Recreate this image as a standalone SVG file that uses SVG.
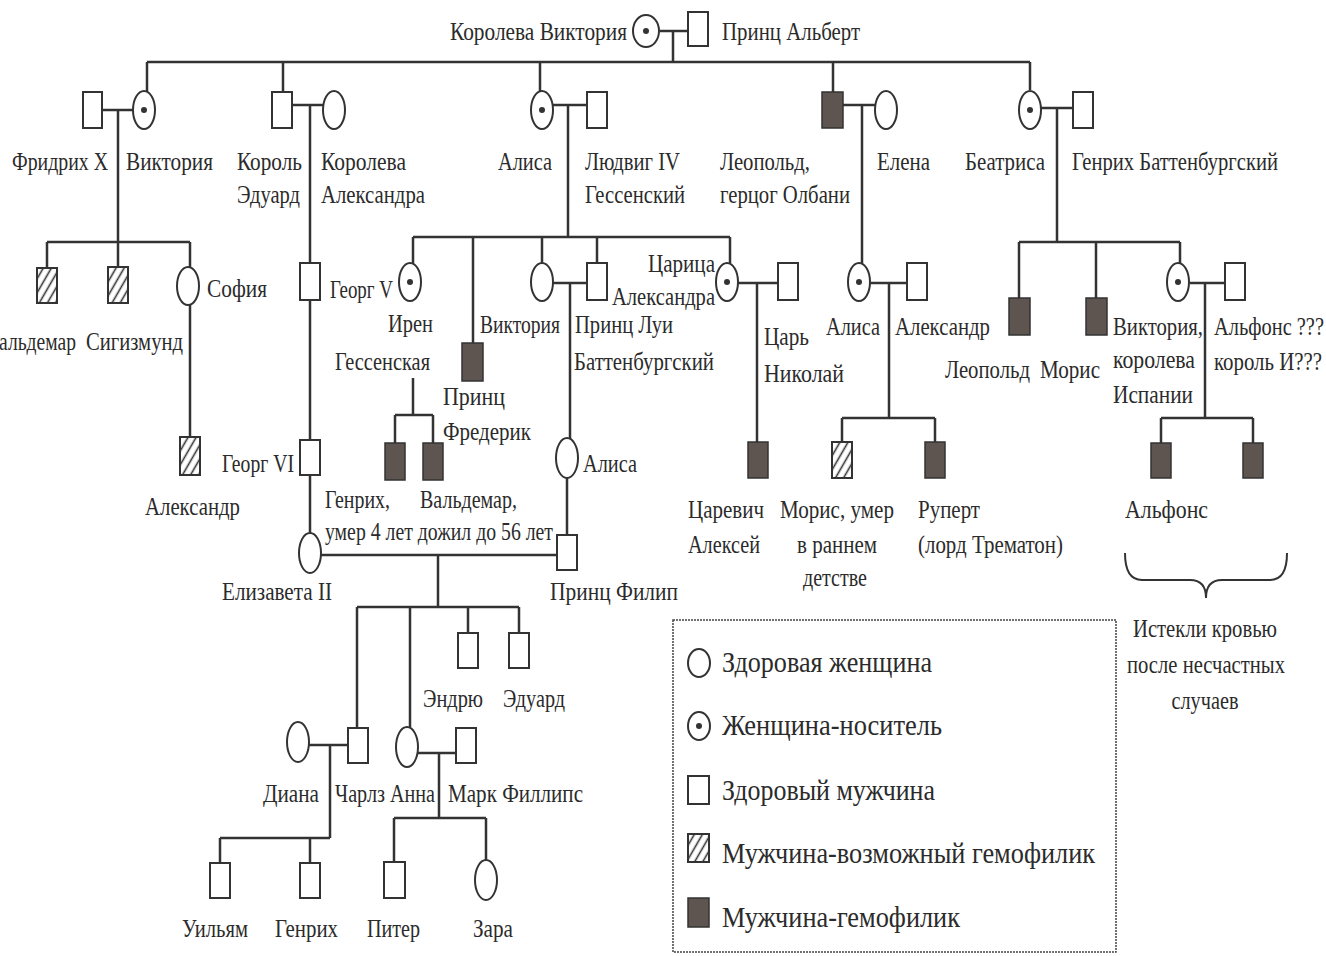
<svg xmlns="http://www.w3.org/2000/svg" width="1326" height="956" viewBox="0 0 1326 956">
<style>
.ln{stroke:#333;stroke-width:2.5;fill:none}
.s{stroke:#333;stroke-width:2;fill:#fff}
.a{stroke:#333;stroke-width:1.5;fill:#5e5550}
.h{stroke:#333;stroke-width:2;fill:url(#hatch)}
.d{fill:#333}
text{font-family:"Liberation Serif","Times New Roman",serif;font-size:26px;fill:#2b2b2b}
.lg{font-size:30px}
</style>
<defs>
<pattern id="hatch" patternUnits="userSpaceOnUse" width="7" height="7" patternTransform="rotate(30)">
<rect width="7" height="7" fill="#fff"/>
<line x1="3.5" y1="0" x2="3.5" y2="7" stroke="#333" stroke-width="1.6"/>
</pattern>
</defs>
<rect width="1326" height="956" fill="#fff"/>

<g id="connectors">
<path class="ln" d="M660,31H688M673,31V62M147,62H1030M147,62V91M283,62V92M540,62V91M833,62V92M1030,62V90"/>
<path class="ln" d="M102,110H133M118,110V267M47,242H190M47,242V268M190,242V267M190,305V437"/>
<path class="ln" d="M292,105H323M310,105V263M310,300V440M310,475V533"/>
<path class="ln" d="M552,105H587M568,105V237M413,237H730M413,237V263M473,237V343M542,237V263M597,237V263M730,237V263"/>
<path class="ln" d="M552,283H587M570,283V439M567,477V535"/>
<path class="ln" d="M413,378V415M395,415H433M395,415V443M433,415V443"/>
<path class="ln" d="M738,283H778M757,283V442"/>
<path class="ln" d="M843,105H875M862,105V263M870,283H907M889,283V418M842,418H935M842,418V442M935,418V442"/>
<path class="ln" d="M1041,108H1073M1057,108V242M1019,242H1180M1019,242V298M1096,242V298M1180,242V263M1190,283H1225M1205,283V418M1161,418H1253M1161,418V443M1253,418V443"/>
<path class="ln" d="M321,555H557M438,555V607M357,607H519M357,607V728M410,607V727M468,607V633M519,607V633"/>
<path class="ln" d="M309,745H348M330,745V838M220,838H330M220,838V863M310,838V863"/>
<path class="ln" d="M418,753H456M439,753V818M394,818H486M394,818V862M486,818V860"/>
<path d="M1125,553Q1125,580 1142,580L1190,580Q1206,580 1206,598Q1206,580 1222,580L1270,580Q1287,580 1287,553" fill="none" stroke="#333" stroke-width="2"/>
</g>

<g id="n-queen-victoria"><ellipse class="s" cx="646" cy="31" rx="13" ry="16"/><circle class="d" cx="646" cy="31" r="3"/><text x="450" y="40" textLength="177" lengthAdjust="spacingAndGlyphs">Королева Виктория</text></g>
<g id="n-albert"><rect class="s" x="688" y="12" width="20" height="34"/><text x="722" y="40" textLength="138" lengthAdjust="spacingAndGlyphs">Принц Альберт</text></g>

<g id="n-friedrich"><rect class="s" x="83" y="92" width="19" height="36"/><text x="12" y="170" textLength="96" lengthAdjust="spacingAndGlyphs">Фридрих X</text></g>
<g id="n-victoria-d"><ellipse class="s" cx="144" cy="110" rx="11" ry="19"/><circle class="d" cx="144" cy="110" r="3"/><text x="126" y="170" textLength="87" lengthAdjust="spacingAndGlyphs">Виктория</text></g>
<g id="n-edward"><rect class="s" x="272" y="92" width="20" height="36"/><text x="237" y="170" textLength="65" lengthAdjust="spacingAndGlyphs">Король</text><text x="237" y="203" textLength="63" lengthAdjust="spacingAndGlyphs">Эдуард</text></g>
<g id="n-alexandra"><ellipse class="s" cx="334" cy="110" rx="11" ry="19"/><text x="321" y="170" textLength="85" lengthAdjust="spacingAndGlyphs">Королева</text><text x="321" y="203" textLength="104" lengthAdjust="spacingAndGlyphs">Александра</text></g>
<g id="n-alice"><ellipse class="s" cx="542" cy="110" rx="11" ry="19"/><circle class="d" cx="542" cy="110" r="3"/><text x="498" y="170" textLength="54" lengthAdjust="spacingAndGlyphs">Алиса</text></g>
<g id="n-ludwig"><rect class="s" x="587" y="92" width="20" height="36"/><text x="585" y="170" textLength="95" lengthAdjust="spacingAndGlyphs">Людвиг IV</text><text x="585" y="203" textLength="100" lengthAdjust="spacingAndGlyphs">Гессенский</text></g>
<g id="n-leopold"><rect class="a" x="822" y="92" width="21" height="36"/><text x="720" y="170" textLength="90" lengthAdjust="spacingAndGlyphs">Леопольд,</text><text x="720" y="203" textLength="130" lengthAdjust="spacingAndGlyphs">герцог Олбани</text></g>
<g id="n-elena"><ellipse class="s" cx="886" cy="110" rx="11" ry="19"/><text x="877" y="170" textLength="53" lengthAdjust="spacingAndGlyphs">Елена</text></g>
<g id="n-beatrice"><ellipse class="s" cx="1030" cy="110" rx="11" ry="19"/><circle class="d" cx="1030" cy="110" r="3"/><text x="965" y="170" textLength="80" lengthAdjust="spacingAndGlyphs">Беатриса</text></g>
<g id="n-henry-b"><rect class="s" x="1073" y="92" width="20" height="36"/><text x="1072" y="170" textLength="206" lengthAdjust="spacingAndGlyphs">Генрих Баттенбургский</text></g>

<g id="n-waldemar"><rect class="h" x="37" y="268" width="20" height="35"/><text x="-14" y="350" textLength="90" lengthAdjust="spacingAndGlyphs">Вальдемар</text></g>
<g id="n-sigismund"><rect class="h" x="108" y="267" width="20" height="36"/><text x="86" y="350" textLength="97" lengthAdjust="spacingAndGlyphs">Сигизмунд</text></g>
<g id="n-sofia"><ellipse class="s" cx="188" cy="286" rx="11" ry="19"/><text x="207" y="297" textLength="60" lengthAdjust="spacingAndGlyphs">София</text></g>
<g id="n-alexander-s"><rect class="h" x="180" y="437" width="20" height="38"/><text x="145" y="515" textLength="95" lengthAdjust="spacingAndGlyphs">Александр</text></g>
<g id="n-george5"><rect class="s" x="300" y="263" width="20" height="37"/><text x="330" y="298" textLength="63" lengthAdjust="spacingAndGlyphs">Георг V</text></g>
<g id="n-george6"><rect class="s" x="300" y="440" width="20" height="35"/><text x="222" y="472" textLength="72" lengthAdjust="spacingAndGlyphs">Георг VI</text></g>
<g id="n-elizabeth"><ellipse class="s" cx="310" cy="553" rx="11" ry="20"/><text x="222" y="600" textLength="110" lengthAdjust="spacingAndGlyphs">Елизавета II</text></g>
<g id="n-philip"><rect class="s" x="557" y="535" width="20" height="35"/><text x="550" y="600" textLength="128" lengthAdjust="spacingAndGlyphs">Принц Филип</text></g>

<g id="n-irene"><ellipse class="s" cx="410" cy="282" rx="11" ry="19"/><circle class="d" cx="410" cy="282" r="3"/><text x="388" y="332" textLength="45" lengthAdjust="spacingAndGlyphs">Ирен</text><text x="335" y="370" textLength="95" lengthAdjust="spacingAndGlyphs">Гессенская</text></g>
<g id="n-frederick"><rect class="a" x="462" y="343" width="21" height="38"/><text x="443" y="405" textLength="62" lengthAdjust="spacingAndGlyphs">Принц</text><text x="443" y="440" textLength="88" lengthAdjust="spacingAndGlyphs">Фредерик</text></g>
<g id="n-victoria-h"><ellipse class="s" cx="542" cy="282" rx="11" ry="19"/><text x="480" y="333" textLength="80" lengthAdjust="spacingAndGlyphs">Виктория</text></g>
<g id="n-louis"><rect class="s" x="587" y="263" width="20" height="37"/><text x="575" y="333" textLength="98" lengthAdjust="spacingAndGlyphs">Принц Луи</text><text x="574" y="370" textLength="140" lengthAdjust="spacingAndGlyphs">Баттенбургский</text></g>
<g id="n-alice-b"><ellipse class="s" cx="567" cy="458" rx="11" ry="20"/><text x="583" y="472" textLength="54" lengthAdjust="spacingAndGlyphs">Алиса</text></g>
<g id="n-henry-i"><rect class="a" x="385" y="443" width="20" height="37"/><text x="325" y="508" textLength="65" lengthAdjust="spacingAndGlyphs">Генрих,</text></g>
<g id="n-waldemar-i"><rect class="a" x="423" y="443" width="20" height="37"/><text x="420" y="508" textLength="97" lengthAdjust="spacingAndGlyphs">Вальдемар,</text><text x="325" y="540" textLength="228" lengthAdjust="spacingAndGlyphs">умер 4 лет дожил до 56 лет</text></g>
<g id="n-tsarina"><ellipse class="s" cx="727" cy="282" rx="11" ry="19"/><circle class="d" cx="727" cy="282" r="3"/><text x="648" y="272" textLength="67" lengthAdjust="spacingAndGlyphs">Царица</text><text x="612" y="305" textLength="103" lengthAdjust="spacingAndGlyphs">Александра</text></g>
<g id="n-nicholas"><rect class="s" x="778" y="263" width="20" height="37"/><text x="764" y="345" textLength="45" lengthAdjust="spacingAndGlyphs">Царь</text><text x="764" y="382" textLength="80" lengthAdjust="spacingAndGlyphs">Николай</text></g>
<g id="n-alexei"><rect class="a" x="748" y="442" width="20" height="36"/><text x="688" y="518" textLength="76" lengthAdjust="spacingAndGlyphs">Царевич</text><text x="688" y="553" textLength="72" lengthAdjust="spacingAndGlyphs">Алексей</text></g>
<g id="n-alice-o"><ellipse class="s" cx="859" cy="282" rx="11" ry="19"/><circle class="d" cx="859" cy="282" r="3"/><text x="826" y="335" textLength="54" lengthAdjust="spacingAndGlyphs">Алиса</text></g>
<g id="n-alexander-o"><rect class="s" x="907" y="263" width="20" height="37"/><text x="895" y="335" textLength="95" lengthAdjust="spacingAndGlyphs">Александр</text></g>
<g id="n-maurice-o"><rect class="h" x="832" y="442" width="20" height="36"/><text x="780" y="518" textLength="114" lengthAdjust="spacingAndGlyphs">Морис, умер</text><text x="797" y="553" textLength="80" lengthAdjust="spacingAndGlyphs">в раннем</text><text x="803" y="586" textLength="64" lengthAdjust="spacingAndGlyphs">детстве</text></g>
<g id="n-rupert"><rect class="a" x="925" y="442" width="20" height="36"/><text x="918" y="518" textLength="62" lengthAdjust="spacingAndGlyphs">Руперт</text><text x="918" y="553" textLength="145" lengthAdjust="spacingAndGlyphs">(лорд Трематон)</text></g>
<g id="n-leopold-b"><rect class="a" x="1009" y="298" width="21" height="37"/><text x="945" y="378" textLength="85" lengthAdjust="spacingAndGlyphs">Леопольд</text></g>
<g id="n-maurice-b"><rect class="a" x="1086" y="298" width="21" height="37"/><text x="1040" y="378" textLength="60" lengthAdjust="spacingAndGlyphs">Морис</text></g>
<g id="n-victoria-e"><ellipse class="s" cx="1178" cy="282" rx="11" ry="19"/><circle class="d" cx="1178" cy="282" r="3"/><text x="1113" y="335" textLength="90" lengthAdjust="spacingAndGlyphs">Виктория,</text><text x="1113" y="368" textLength="82" lengthAdjust="spacingAndGlyphs">королева</text><text x="1113" y="403" textLength="80" lengthAdjust="spacingAndGlyphs">Испании</text></g>
<g id="n-alfonso13"><rect class="s" x="1225" y="263" width="20" height="37"/><text x="1214" y="335" textLength="110" lengthAdjust="spacingAndGlyphs">Альфонс ???</text><text x="1214" y="370" textLength="108" lengthAdjust="spacingAndGlyphs">король И???</text></g>
<g id="n-alfonso"><rect class="a" x="1151" y="443" width="20" height="35"/><text x="1125" y="518" textLength="83" lengthAdjust="spacingAndGlyphs">Альфонс</text></g>
<g id="n-gonzalo"><rect class="a" x="1243" y="443" width="20" height="35"/></g>
<g id="n-note"><text x="1205" y="637" text-anchor="middle" textLength="144" lengthAdjust="spacingAndGlyphs">Истекли кровью</text><text x="1206" y="673" text-anchor="middle" textLength="158" lengthAdjust="spacingAndGlyphs">после несчастных</text><text x="1205" y="709" text-anchor="middle" textLength="67" lengthAdjust="spacingAndGlyphs">случаев</text></g>

<g id="n-andrew"><rect class="s" x="458" y="633" width="20" height="35"/><text x="423" y="707" textLength="60" lengthAdjust="spacingAndGlyphs">Эндрю</text></g>
<g id="n-edward2"><rect class="s" x="509" y="633" width="20" height="35"/><text x="503" y="707" textLength="62" lengthAdjust="spacingAndGlyphs">Эдуард</text></g>
<g id="n-diana"><ellipse class="s" cx="298" cy="742" rx="11" ry="20"/><text x="263" y="802" textLength="56" lengthAdjust="spacingAndGlyphs">Диана</text></g>
<g id="n-charles"><rect class="s" x="348" y="728" width="20" height="35"/><text x="335" y="802" textLength="50" lengthAdjust="spacingAndGlyphs">Чарлз</text></g>
<g id="n-anne"><ellipse class="s" cx="407" cy="747" rx="11" ry="20"/><text x="390" y="802" textLength="45" lengthAdjust="spacingAndGlyphs">Анна</text></g>
<g id="n-mark"><rect class="s" x="456" y="728" width="20" height="35"/><text x="448" y="802" textLength="135" lengthAdjust="spacingAndGlyphs">Марк Филлипс</text></g>
<g id="n-william"><rect class="s" x="210" y="863" width="20" height="35"/><text x="182" y="937" textLength="66" lengthAdjust="spacingAndGlyphs">Уильям</text></g>
<g id="n-harry"><rect class="s" x="300" y="863" width="20" height="35"/><text x="275" y="937" textLength="63" lengthAdjust="spacingAndGlyphs">Генрих</text></g>
<g id="n-peter"><rect class="s" x="384" y="862" width="21" height="36"/><text x="367" y="937" textLength="53" lengthAdjust="spacingAndGlyphs">Питер</text></g>
<g id="n-zara"><ellipse class="s" cx="486" cy="880" rx="11" ry="20"/><text x="473" y="937" textLength="40" lengthAdjust="spacingAndGlyphs">Зара</text></g>

<g id="legend">
<rect x="673" y="620" width="443" height="332" fill="none" stroke="#444" stroke-width="1.5" stroke-dasharray="2,1"/>
<ellipse class="s" cx="699" cy="663" rx="11" ry="14"/><text class="lg" x="722" y="672" textLength="210" lengthAdjust="spacingAndGlyphs">Здоровая женщина</text>
<ellipse class="s" cx="699" cy="726" rx="11" ry="14"/><circle class="d" cx="699" cy="726" r="3"/><text class="lg" x="722" y="735" textLength="220" lengthAdjust="spacingAndGlyphs">Женщина-носитель</text>
<rect class="s" x="688" y="776" width="21" height="28"/><text class="lg" x="722" y="800" textLength="213" lengthAdjust="spacingAndGlyphs">Здоровый мужчина</text>
<rect class="h" x="688" y="834" width="21" height="28"/><text class="lg" x="722" y="863" textLength="373" lengthAdjust="spacingAndGlyphs">Мужчина-возможный гемофилик</text>
<rect class="a" x="688" y="898" width="21" height="29"/><text class="lg" x="722" y="927" textLength="238" lengthAdjust="spacingAndGlyphs">Мужчина-гемофилик</text>
</g>
</svg>
